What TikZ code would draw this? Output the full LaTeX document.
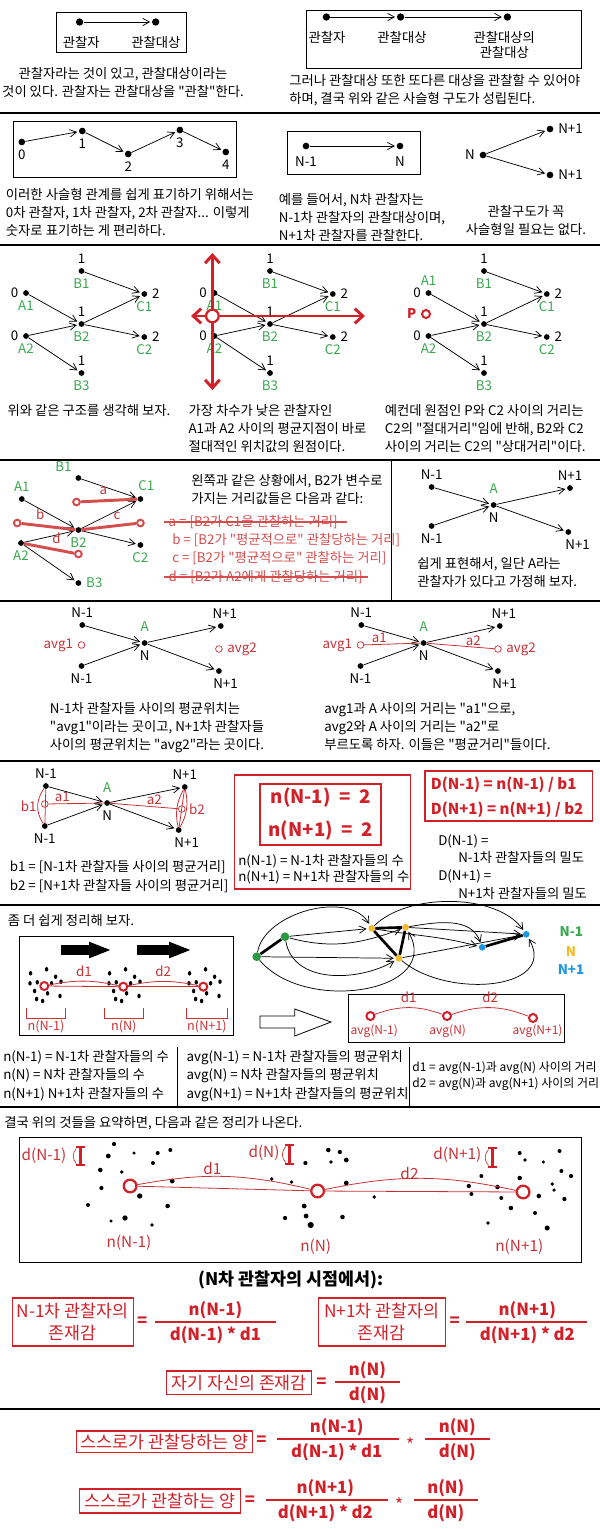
\documentclass[tikz,border=0pt]{standalone}
\usepackage{fontspec}
\setmainfont{Noto Sans CJK KR}[Ligatures=TeXOff]
\usetikzlibrary{arrows.meta}

\definecolor{labgreen}{RGB}{58,168,78}
\definecolor{hotred}{RGB}{210,32,40}
\definecolor{avgred}{RGB}{200,50,55}
\definecolor{paleRed}{RGB}{212,78,78}
\definecolor{dotgreen}{RGB}{40,155,65}
\definecolor{dotyellow}{RGB}{245,185,35}
\definecolor{dotblue}{RGB}{30,150,225}

\tikzset{
	% observers (black dots) and the "observes" arrow
	obs/.style={circle,fill=black,inner sep=0,minimum size=4.3pt},
	sees/.style={-{Straight Barb[length=5pt,width=5.5pt]},shorten >=1.2pt,line width=0.55pt},
	tint dot/.style={circle,inner sep=0,minimum size=5pt},
	% hollow red marks for average positions
	avg ring/.style={circle,draw=avgred,fill=white,inner sep=0,minimum size=5pt,line width=0.55pt},
	fat ring/.style={circle,draw=hotred,fill=white,inner sep=0,minimum size=6pt,line width=1.5pt},
	big ring/.style={circle,draw=hotred,fill=white,inner sep=0,minimum size=9.5pt,line width=1.7pt},
	grn/.style={text=labgreen},
	rtxt/.style={text=avgred},
	caption/.style={align=left,anchor=north west,inner sep=0},
	ccaption/.style={align=center,anchor=north,inner sep=0},
	rowtext/.style={anchor=west,inner sep=0},
	meanline/.style={draw=avgred,line width=0.6pt},
	dist line/.style={draw=paleRed,line width=2.2pt},
	axis arrow/.style={draw=hotred,line width=2.2pt,-{Straight Barb[length=6pt,width=11pt]}},
	push arrow/.style={line width=7.5pt,-{Triangle[length=17pt,width=11pt]}},
	formula/.style={text=hotred,font=\fontsize{12.5}{15}\selectfont\bfseries},
	termbox/.style={draw=hotred,line width=0.8pt,text=hotred,font=\fontsize{13}{16.5}\selectfont,align=center,inner sep=0},
	fracbar/.style={draw=hotred,line width=2pt},
	ibeam/.style={draw=hotred,line width=2.2pt}
}

\begin{document}
\begin{tikzpicture}[x=0.75pt,y=-0.75pt,font=\fontsize{10}{13.5}\selectfont]
\useasboundingbox (0,0) rectangle (600,1529);

% rules between the panels
\foreach \ly in {113,245,460,601,761,905,1107,1409}
	\draw[line width=0.9pt] (0,\ly) -- (600,\ly);
\draw[line width=0.6pt] (391,460) -- (391,601);
\draw[line width=0.6pt] (177.2,1047) -- (177.2,1107);
\draw[line width=0.6pt] (409.5,1047) -- (409.5,1107);

% observer -> observed
\draw (56.6,12) rectangle (186.4,52);
\node(o1) at (79.6,22) [obs, minimum size=5.5pt] {};
\node(t1) at (155.7,22) [obs, minimum size=5.5pt] {};
\node(o1t) at (81.3,42) {관찰자};
\node(t1t) at (155.9,42) {관찰대상};
\path[sees] (o1) edge (t1);
\node(cap1) at (123,67) [ccaption] {관찰자라는 것이 있고, 관찰대상이라는\\것이 있다. 관찰자는 관찰대상을 "관찰"한다.};

% chain of three
\draw (306,10) rectangle (581.6,68);
\node(o2) at (326.4,17) [obs, minimum size=5.5pt] {};
\node(t2) at (400.6,17) [obs, minimum size=5.5pt] {};
\node(tt2) at (507.4,17) [obs, minimum size=5.5pt] {};
\node(o2t) at (327,37) {관찰자};
\node(t2t) at (402,37) {관찰대상};
\node(tt2t) at (504.3,31) [ccaption, font=\fontsize{10}{11.3}\selectfont] {관찰대상의\\관찰대상};
\path[sees] (o2) edge (t2)
            (t2) edge (tt2);
\node(cap2) at (289,74) [caption] {그러나 관찰대상 또한 또다른 대상을 관찰할 수 있어야\\하며, 결국 위와 같은 사슬형 구도가 성립된다.};

% numbered chain
\draw (13.4,121) rectangle (236,177);
\node(c0) at (21.8,142) [obs, minimum size=5pt, label=below:0] {};
\node(c1) at (82.3,131) [obs, minimum size=5pt, label=below:1] {};
\node(c2) at (128.2,154) [obs, minimum size=5pt, label=below:2] {};
\node(c3) at (179.9,130) [obs, minimum size=5pt, label=below:3] {};
\node(c4) at (225.8,152) [obs, minimum size=5pt, label=below:4] {};
\path[sees] (c0) edge (c1)
            (c1) edge (c2)
            (c2) edge (c3)
            (c3) edge (c4);
\node(cap3) at (5.7,188) [caption] {이러한 사슬형 관계를 쉽게 표기하기 위해서는\\0차 관찰자, 1차 관찰자, 2차 관찰자... 이렇게\\숫자로 표기하는 게 편리하다.};

\draw (287,131) rectangle (419.8,174);
\node(p1) at (306,146) [obs, minimum size=5pt, label={[label distance=2pt]below:N-1}] {};
\node(p2) at (400,146) [obs, minimum size=5pt, label={[label distance=2pt]below:N}] {};
\path[sees] (p1) edge (p2);
\node(cap4) at (278.6,193) [caption] {예를 들어서, N차 관찰자는\\N-1차 관찰자의 관찰대상이며,\\N+1차 관찰자를 관찰한다.};

\node(f0) at (483,155) [obs, minimum size=5pt, label=left:N] {};
\node(f1) at (550,129) [obs, minimum size=5pt, label=right:N+1] {};
\node(f2) at (550,175) [obs, minimum size=5pt, label=right:N+1] {};
\path[sees] (f0) edge (f1)
            (f0) edge (f2);
\node(cap5) at (526,205) [ccaption] {관찰구도가 꼭\\사슬형일 필요는 없다.};

% three copies of the A-B-C structure
\foreach \sx/\g/\ay in {0/l/0pt,188.5/m/0pt,402.5/r/19pt}{
	\node(B1\g) at (81.5+\sx,271) [obs, label=above:1, label={[grn]below:B1}] {};
	\node(A1\g) at (26+\sx,293) [obs, label=left:0, label={[grn,yshift=\ay]below:A1}] {};
	\node(C1\g) at (144.3+\sx,294) [obs, label=right:2, label={[grn]below:C1}] {};
	\node(B2\g) at (81.5+\sx,324) [obs, label=above:1, label={[grn]below:B2}] {};
	\node(A2\g) at (26+\sx,336) [obs, label=left:0, label={[grn]below:A2}] {};
	\node(C2\g) at (144.3+\sx,337) [obs, label=right:2, label={[grn]below:C2}] {};
	\node(B3\g) at (81.5+\sx,373) [obs, label=above:1, label={[grn]below:B3}] {};
	\path[sees] (B1\g) edge (C1\g)
	            (A1\g) edge (B2\g)
	            (B2\g) edge (C1\g)
	            (B2\g) edge (C2\g)
	            (A2\g) edge (B2\g)
	            (A2\g) edge (B3\g);
}
% origin between A1 and A2
\node(P0) at (212.4,316) [big ring] {};
\coordinate(Pe) at (365,316);
\coordinate(Pw) at (191,316);
\coordinate(Pn) at (212.4,253);
\coordinate(Ps) at (212.4,390);
\path[axis arrow] (P0) edge (Pe)
                  (P0) edge (Pw)
                  (P0) edge (Pn)
                  (P0) edge (Ps);
\node(P) at (426,314) [fat ring, label={[text=hotred,font=\bfseries]left:P}] {};
\node(cap6) at (89,404) [ccaption] {위와 같은 구조를 생각해 보자.};
\node(cap7) at (188.3,404) [caption] {가장 차수가 낮은 관찰자인\\A1과 A2 사이의 평균지점이 바로\\절대적인 위치값의 원점이다.};
\node(cap8) at (384.6,404) [caption] {예컨데 원점인 P와 C2 사이의 거리는\\C2의 "절대거리"임에 반해, B2와 C2\\사이의 거리는 C2의 "상대거리"이다.};

% distances held by B2
\node(vB1) at (78.4,478) [obs, label={[grn]above left:B1}] {};
\node(vA1) at (21.8,499) [obs, label={[grn]above:A1}] {};
\node(vC1) at (140.4,499) [obs, label={[grn,xshift=4.5pt]above:C1}] {};
\node(vB2) at (78.4,530) [obs, label={[grn]below:B2}] {};
\node(vA2) at (21,543) [obs, label={[grn]below:A2}] {};
\node(vC2) at (140.4,545) [obs, label={[grn]below:C2}] {};
\node(vB3) at (78.4,583) [obs, label={[grn]right:B3}] {};
\path[sees] (vB1) edge (vC1)
            (vA1) edge (vB2)
            (vB2) edge (vC1)
            (vB2) edge (vC2)
            (vA2) edge (vB2)
            (vA2) edge (vB3);
\node(ra) at (76.5,502) [fat ring, draw=paleRed, minimum size=5pt] {};
\node(rb) at (17.2,523) [fat ring, draw=paleRed, minimum size=5pt] {};
\node(rc) at (140.4,523) [fat ring, draw=paleRed, minimum size=5pt] {};
\node(rd) at (78.4,554) [fat ring, draw=paleRed, minimum size=5pt] {};
\draw[dist line] (ra) -- node[above, pos=0.4, rtxt] (la) {a} (vC1);
\draw[dist line] (rb) -- node[above, pos=0.35, rtxt] (lb) {b} (vB2);
\draw[dist line] (vB2) -- node[above, pos=0.65, rtxt] (lc) {c} (rc);
\draw[dist line] (vA2) -- node[above, pos=0.65, rtxt] (ld) {d} (rd);
\node(q1) at (191,474) [caption] {왼쪽과 같은 상황에서, B2가 변수로\\가지는 거리값들은 다음과 같다:};
\node(da) at (168.4,522) [rowtext, text=paleRed] {a = [B2가 C1을 관찰하는 거리]};
\node(db) at (172,540) [rowtext, text=paleRed] {b = [B2가 "평균적으로" 관찰당하는 거리]};
\node(dc) at (172,558) [rowtext, text=paleRed] {c = [B2가 "평균적으로" 관찰하는 거리]};
\node(dd) at (168.4,577) [rowtext, text=paleRed] {d = [B2가 A2에게 관찰당하는 거리]};
\draw[paleRed, line width=0.9pt] ([xshift=-3pt]da.west) -- ([xshift=7pt]da.east);
\draw[paleRed, line width=0.9pt] ([xshift=-3pt]dd.west) -- ([xshift=4pt]dd.east);

% observer A
\node(Nu) at (431.6,487) [obs, label=above:N-1] {};
\node(Nd) at (431.6,526) [obs, label=below:N-1] {};
\node(NA) at (493.6,505) [obs, label={[grn,label distance=3pt]above:A}, label=below:N] {};
\node(Pu) at (570,488) [obs, label=above:N+1] {};
\node(Pd) at (568.3,532) [obs, label={[xshift=7pt]below:N+1}] {};
\path[sees] (Nu) edge (NA)
            (Nd) edge (NA)
            (NA) edge (Pu)
            (NA) edge (Pd);
\node(cap9) at (417,557) [caption] {쉽게 표현해서, 일단 A라는\\관찰자가 있다고 가정해 보자.};

% avg1 and avg2, twice
\foreach \sx/\g in {0/l,279/r}{
	\node(Mu\g) at (82.3+\sx,625) [obs, label=above:N-1] {};
	\node(Md\g) at (81.5+\sx,666) [obs, label=below:N-1] {};
	\node(MA\g) at (144.6+\sx,643) [obs, label={[grn,label distance=3pt]above:A}, label=below:N] {};
	\node(Qu\g) at (220.8+\sx,626) [obs, label={[xshift=3pt]above:N+1}] {};
	\node(Qd\g) at (218.9+\sx,671) [obs, label={[xshift=5pt]below:N+1}] {};
	\node(avg1\g) at (81.5+\sx,645) [avg ring, label={[rtxt]left:avg1}] {};
	\node(avg2\g) at (218.9+\sx,649) [avg ring, label={[rtxt]right:avg2}] {};
	\path[sees] (Mu\g) edge (MA\g)
	            (Md\g) edge (MA\g)
	            (MA\g) edge (Qu\g)
	            (MA\g) edge (Qd\g);
}
\draw[meanline] (avg1r) -- node[above, pos=0.27, inner sep=1pt, rtxt] (a1r) {a1} (MAr);
\draw[meanline] (MAr) -- node[above, pos=0.69, inner sep=1pt, rtxt] (a2r) {a2} (avg2r);
\node(cap10) at (49.7,702) [caption] {N-1차 관찰자들 사이의 평균위치는\\"avg1"이라는 곳이고, N+1차 관찰자들\\사이의 평균위치는 "avg2"라는 곳이다.};
\node(cap11) at (324,702) [caption] {avg1과 A 사이의 거리는 "a1"으로,\\avg2와 A 사이의 거리는 "a2"로\\부르도록 하자. 이들은 "평균거리"들이다.};

% b1, b2 and the densities
\node(Ku) at (45.9,786) [obs, label=above:N-1] {};
\node(Kd) at (44.8,826) [obs, label=below:N-1] {};
\node(KA) at (107.1,803) [obs, label={[grn,label distance=2pt]above:A}, label=below:N] {};
\node(Lu) at (184.8,787) [obs, label=above:N+1] {};
\node(Ld) at (178.7,830) [obs, label={[xshift=6pt]below:N+1}] {};
\node(Kavg) at (44.8,804) [avg ring] {};
\node(Lavg) at (181.8,809) [avg ring] {};
\draw[meanline] (Ku) -- (Kd);
\draw[meanline] (Ku) to[bend right=35] (Kd);
\draw[meanline] (Lu) -- (Ld);
\draw[meanline] (Lu) to[bend right=20] (Ld);
\draw[meanline] (Lu) to[bend left=20] (Ld);
\draw[meanline] (Kavg) -- node[above, pos=0.25, inner sep=1pt, rtxt] (a1k) {a1} (KA);
\draw[meanline] (KA) -- node[above, pos=0.65, inner sep=1pt, rtxt] (a2k) {a2} (Lavg);
\node(b1k) at (28.7,806) [rtxt] {b1};
\node(b2k) at (197,809) [rtxt] {b2};
\path[sees] (Ku) edge (KA)
            (Kd) edge (KA)
            (KA) edge (Lu)
            (KA) edge (Ld);
\node(bdef) at (9.6,860) [caption, font=\fontsize{10}{14.2}\selectfont] {b1 = [N-1차 관찰자들 사이의 평균거리]\\b2 = [N+1차 관찰자들 사이의 평균거리]};

\draw[hotred, line width=0.9pt] (234.2,775) rectangle (410.2,889);
\draw[hotred, line width=1.3pt] (260.2,784) rectangle (380.7,845);
\node(cnt1) at (320.7,798) [text=hotred, font=\fontsize{14}{16}\selectfont\bfseries] {n(N-1) \ = \ 2};
\node(cnt2) at (320.7,831) [text=hotred, font=\fontsize{14}{16}\selectfont\bfseries] {n(N+1) \ = \ 2};
\node(cntdef) at (238,854) [caption, font=\fontsize{10}{12}\selectfont] {n(N-1) = N-1차 관찰자들의 수\\n(N+1) = N+1차 관찰자들의 수};

\draw[hotred, line width=1.3pt] (424.8,771) rectangle (592.4,821);
\node(dens1) at (430.5,785) [rowtext, text=hotred, font=\fontsize{11.3}{14}\selectfont\bfseries] {D(N-1) = n(N-1) / b1};
\node(dens2) at (430.5,810) [rowtext, text=hotred, font=\fontsize{11.3}{14}\selectfont\bfseries] {D(N+1) = n(N+1) / b2};
\node(densdef) at (438,834) [caption, font=\fontsize{10}{13.3}\selectfont] {D(N-1) =\\\hspace*{15pt}N-1차 관찰자들의 밀도\\D(N+1) =\\\hspace*{15pt}N+1차 관찰자들의 밀도};

% clusters of observers and their averages
\node(cap12) at (7.7,914) [caption] {좀 더 쉽게 정리해 보자.};
\draw (19.1,936) rectangle (233.4,1035);
\coordinate(s1a) at (60.7,950);
\coordinate(s1b) at (111.7,950);
\coordinate(s2a) at (136.7,950);
\coordinate(s2b) at (191.7,950);
\draw[push arrow] (s1a) -- (s1b);
\draw[push arrow] (s2a) -- (s2b);
\foreach \cx in {44.3,123.3,203.3}
	\foreach \dx/\dy in {-13.7/-12.7,2.3/-16.7,11.3/-9.3,16.7/-4.3,-7/-3.7,-9.7/5,3.3/7.3,15.7/10,-7.7/13,-1.7/15,7.3/-2.7,-14.3/-2.7}
		\fill (\cx+\dx,986+\dy) ellipse (1.3pt and 1.7pt);
\node(m1) at (44.3,986) [fat ring] {};
\node(m2) at (123.3,986.7) [fat ring] {};
\node(m3) at (203.3,986.7) [fat ring] {};
\draw[meanline] (m1) -- (m2);
\draw[meanline] (m2) -- (m3);
\draw[meanline] (m1) to[bend left=12] node[above, rtxt] (d1a) {d1} (m2);
\draw[meanline] (m2) to[bend left=12] node[above, rtxt] (d2a) {d2} (m3);
\foreach \ba/\bb in {26.7/65,104.3/143.3,186.7/227}
	\draw[avgred, line width=0.6pt] (\ba,1008) -- (\ba,1018) -- (\bb,1018) -- (\bb,1008);
\node(nl1) at (46,1027) [rtxt, font=\fontsize{9.5}{11}\selectfont] {n(N-1)};
\node(nl2) at (123.8,1027) [rtxt, font=\fontsize{9.5}{11}\selectfont] {n(N)};
\node(nl3) at (207,1027) [rtxt, font=\fontsize{9.5}{11}\selectfont] {n(N+1)};

\draw[line width=0.6pt] (260,1016) -- (294.7,1016) -- (294.7,1009) -- (331,1022)
	-- (294.7,1036) -- (294.7,1028) -- (260,1028) -- cycle;

% coloured groups
\node(g1) at (256.7,956.7) [tint dot, fill=dotgreen, minimum size=6.5pt] {};
\node(g2) at (285,936.7) [tint dot, fill=dotgreen, minimum size=6.5pt] {};
\node(y1) at (371.7,928.3) [tint dot, fill=dotyellow] {};
\node(y2) at (405.7,927.3) [tint dot, fill=dotyellow] {};
\node(y3) at (399,958.3) [tint dot, fill=dotyellow] {};
\node(bb1) at (482.2,947.3) [tint dot, fill=dotblue] {};
\node(bb2) at (526.2,934.3) [tint dot, fill=dotblue] {};
\draw[line width=2pt] (g1) -- (g2);
\draw[line width=2pt] (y1) -- (y2);
\draw[line width=2pt] (y1) -- (y3);
\draw[line width=2pt] (y2) -- (y3);
\draw[line width=2pt] (bb1) -- (bb2);
\path[sees] (g2) edge (y1)
            (g1) edge (y3)
            (g2) edge[out=-15,in=200] (y2)
            (g1) edge[out=80,in=120,looseness=0.9] (y1)
            (g2) edge[out=-80,in=-150] (y3)
            (g1) edge[out=-50,in=-60,looseness=1.2] (y2)
            (y1) edge[out=-10,in=165] (bb1)
            (y2) edge (bb2)
            (y3) edge (bb2)
            (y1) edge[out=45,in=125,looseness=0.8] (bb2)
            (y2) edge[out=10,in=110] (bb1)
            (y3) edge[out=-40,in=-60,looseness=1.2] (bb2);
\node(kN1) at (571.3,932) [text=labgreen, font=\bfseries] {N-1};
\node(kN) at (571,952) [text=dotyellow, font=\bfseries] {N};
\node(kN2) at (571,970) [text=dotblue, font=\bfseries] {N+1};

\draw (348.2,994) rectangle (564.4,1042);
\node(v1) at (370.4,1016) [fat ring] {};
\node(v2) at (447,1016) [fat ring] {};
\node(v3) at (533,1018) [fat ring] {};
\draw[meanline] (v1) to[bend left=20] node[above, rtxt] (vd1) {d1} (v2);
\draw[meanline] (v2) to[bend left=20] node[above, rtxt] (vd2) {d2} (v3);
\node(vl1) at (374.2,1031) [rtxt, font=\fontsize{9}{11}\selectfont] {avg(N-1)};
\node(vl2) at (447.7,1031) [rtxt, font=\fontsize{9}{11}\selectfont] {avg(N)};
\node(vl3) at (537.6,1031) [rtxt, font=\fontsize{9}{11}\selectfont] {avg(N+1)};

\node(col1) at (3,1050) [caption, font=\fontsize{10}{13.9}\selectfont] {n(N-1) = N-1차 관찰자들의 수\\n(N) = N차 관찰자들의 수\\n(N+1) N+1차 관찰자들의 수};
\node(col2) at (186.4,1050) [caption, font=\fontsize{10}{13.9}\selectfont] {avg(N-1) = N-1차 관찰자들의 평균위치\\avg(N) = N차 관찰자들의 평균위치\\avg(N+1) = N+1차 관찰자들의 평균위치};
\node(col3) at (412.1,1061.5) [caption, font=\fontsize{9}{12}\selectfont] {d1 = avg(N-1)과 avg(N) 사이의 거리\\d2 = avg(N)과 avg(N+1) 사이의 거리};

% summary picture
\node(cap13) at (4,1116) [caption] {결국 위의 것들을 요약하면, 다음과 같은 정리가 나온다.};
\draw (19.1,1137) rectangle (581.6,1262);
\foreach \px/\py/\pr in {114/1144/1.6,108.3/1156/1.8,134/1153/1.3,157.7/1153/1.5,170.3/1150/1.5,153/1163/1.5,
		100.3/1170/1.7,121.7/1172/1.4,101.4/1188/1.6,139.7/1196/2.0,167.6/1206/1.7,88/1205/1.5,111/1221/1.3,
		125/1218/2.0,152/1225/1.4,172.2/1181/1.8,
		271.7/1179/1.4,291.6/1182/1.4,305.4/1163/1.6,328.3/1150/1.7,339.8/1152/1.6,331/1162/1.4,346.3/1160/1.8,
		346.3/1183/1.8,304.2/1206/1.8,306.1/1216/1.8,285.1/1218/1.6,310.7/1225/2.3,342.5/1217/1.7,374.3/1197/1.4,
		481.4/1176/1.5,468.8/1186/1.6,471.4/1194/1.5,497.5/1187/1.7,501.3/1198/1.5,510.9/1208/1.7,519.7/1178/1.7,
		519.7/1153/1.5,525/1160/1.4,543.4/1162/1.3,559.5/1151/1.5,561.4/1171/1.5,571/1176/1.6,552.2/1184/1.4,
		554.1/1190/1.4,538.8/1196/1.7,564.4/1199/1.6,535/1213/1.5,487.9/1223/1.4,547.2/1228/1.9}
	\fill (\px,\py) circle (\pr pt);
\foreach \bx/\bt/\bb in {80.4/1147/1165,289.7/1145/1164,492.5/1148/1167}{
	\draw[ibeam] (\bx,\bt) -- (\bx,\bb);
	\draw[ibeam, line width=1.6pt] (\bx-4.5,\bt) -- (\bx+4.5,\bt) (\bx-4.5,\bb) -- (\bx+4.5,\bb);
	\draw[avgred, line width=0.5pt] (\bx-4,\bt+1.5) to[bend right=45] (\bx-4,\bb-1.5);
}
\node(dN1) at (44,1156) [rtxt, font=\fontsize{11.5}{13}\selectfont] {d(N-1)};
\node(dN) at (264,1153) [rtxt, font=\fontsize{11.5}{13}\selectfont] {d(N)};
\node(dN2) at (457.3,1155) [rtxt, font=\fontsize{11.5}{13}\selectfont] {d(N+1)};
\node(w1) at (130.1,1186) [big ring] {};
\node(w2) at (317.6,1191) [big ring] {};
\node(w3) at (523.1,1192) [big ring] {};
\draw[meanline] (w1) -- (w2);
\draw[meanline] (w1) to[bend left=12] (w2);
\draw[meanline] (w2) -- (w3);
\draw[meanline] (w2) to[bend left=12] (w3);
\node(wd1) at (212.4,1168) [rtxt, font=\fontsize{11.5}{13}\selectfont] {d1};
\node(wd2) at (409.5,1173) [rtxt, font=\fontsize{11.5}{13}\selectfont] {d2};
\node(wn1) at (129,1243) [rtxt, font=\fontsize{11.5}{13}\selectfont] {n(N-1)};
\node(wn2) at (315.7,1247) [rtxt, font=\fontsize{11.5}{13}\selectfont] {n(N)};
\node(wn3) at (519.3,1247) [rtxt, font=\fontsize{11.5}{13}\selectfont] {n(N+1)};

% the resulting formulas
\node(view) at (290.8,1280) [font=\fontsize{13}{15}\selectfont\bfseries] {(N차 관찰자의 시점에서):};
\node(prev) at (72.7,1322) [termbox, minimum width=90.7pt, minimum height=36pt] {N-1차 관찰자의\\존재감};
\node(eq1) at (142.3,1322) [formula] {=};
\draw[fracbar] (155,1322) -- (276.3,1322);
\node(num1) at (215.4,1310) [formula] {n(N-1)};
\node(den1) at (215.4,1335) [formula] {d(N-1) * d1};
\node(next) at (381.9,1322) [termbox, minimum width=94.7pt, minimum height=36pt] {N+1차 관찰자의\\존재감};
\node(eq2) at (454.6,1322) [formula] {=};
\draw[fracbar] (466,1322) -- (587.4,1322);
\node(num2) at (527.3,1310) [formula] {n(N+1)};
\node(den2) at (527.3,1335) [formula] {d(N+1) * d2};
\node(self) at (239.2,1382.5) [termbox, minimum width=109pt, minimum height=17.3pt] {자기 자신의 존재감};
\node(eq3) at (321.4,1383) [formula] {=};
\draw[fracbar] (334.8,1382) -- (399.9,1382);
\node(num3) at (367.4,1370) [formula] {n(N)};
\node(den3) at (367.4,1395) [formula] {d(N)};

\node(seen) at (164.5,1441.5) [termbox, minimum width=132pt, minimum height=15.8pt] {스스로가 관찰당하는 양};
\node(eq4) at (261.4,1441) [formula] {=};
\draw[fracbar] (277.4,1439) -- (399.1,1439);
\node(num4) at (336.7,1427) [formula] {n(N-1)};
\node(den4) at (336.7,1452) [formula] {d(N-1) * d1};
\node(st4) at (410.2,1445) [text=hotred, font=\fontsize{13}{15}\selectfont] {*};
\draw[fracbar] (424.8,1439) -- (489.8,1439);
\node(num4b) at (457.3,1427) [formula] {n(N)};
\node(den4b) at (457.3,1452) [formula] {d(N)};

\node(sees) at (159.8,1501) [termbox, minimum width=120.8pt, minimum height=18pt] {스스로가 관찰하는 양};
\node(eq5) at (249.9,1501) [formula] {=};
\draw[fracbar] (266,1500) -- (387.6,1500);
\node(num5) at (325.3,1488) [formula] {n(N+1)};
\node(den5) at (325.3,1513) [formula] {d(N+1) * d2};
\node(st5) at (399.1,1505) [text=hotred, font=\fontsize{13}{15}\selectfont] {*};
\draw[fracbar] (414,1500) -- (478.3,1500);
\node(num5b) at (445.8,1488) [formula] {n(N)};
\node(den5b) at (445.8,1513) [formula] {d(N)};

\end{tikzpicture}
\end{document}
